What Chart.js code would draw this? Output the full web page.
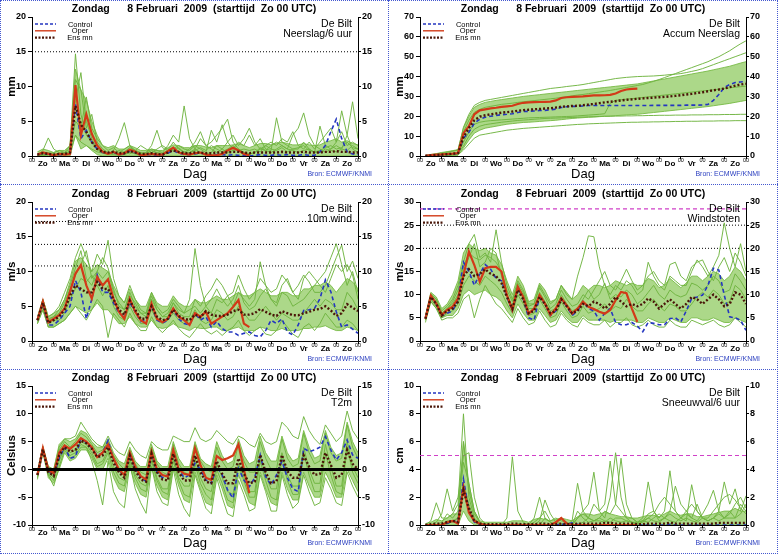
<!DOCTYPE html>
<html><head><meta charset="utf-8">
<script src="https://cdn.jsdelivr.net/npm/chart.js@4.4.0/dist/chart.umd.min.js"></script>
<style>
html,body{margin:0;padding:0;background:#fff}
body{width:778px;height:554px;overflow:hidden;position:relative}
.p{position:absolute}
.p canvas{display:block}
.hl{position:absolute;height:0;border-top:1px dotted #4458d0}
.vl{position:absolute;width:0;border-left:1px dotted #4458d0}
</style></head><body>
<div class="p" style="left:0;top:0"><canvas id="c1" width="388" height="185"></canvas></div>
<div class="p" style="left:388px;top:0"><canvas id="c2" width="390" height="185"></canvas></div>
<div class="p" style="left:0;top:185px"><canvas id="c3" width="388" height="185"></canvas></div>
<div class="p" style="left:388px;top:185px"><canvas id="c4" width="390" height="185"></canvas></div>
<div class="p" style="left:0;top:369px"><canvas id="c5" width="388" height="185"></canvas></div>
<div class="p" style="left:388px;top:369px"><canvas id="c6" width="390" height="185"></canvas></div>
<div class="hl" style="left:0;top:0;width:778px"></div>
<div class="hl" style="left:0;top:184px;width:778px"></div>
<div class="hl" style="left:0;top:369px;width:778px"></div>
<div class="hl" style="left:0;top:553px;width:778px"></div>
<div class="vl" style="left:0;top:0;height:554px"></div>
<div class="vl" style="left:388px;top:0;height:554px"></div>
<div class="vl" style="left:777px;top:0;height:554px"></div>
<script>
// ---------- time grid & labels ----------
const H = [6,12,18,24,30,36,42,48,54,60,66,72,78,84,90,96,102,108,114,120,126,132,138,144,150,156,162,168,174,180,186,192,198,204,210,216,222,228,234,240,246,252,258,264,270,276,282,288,294,300,306,312,318,324,330,336,342,348,354,360];
const DAYS = ['Zo','Ma','Di','Wo','Do','Vr','Za','Zo','Ma','Di','Wo','Do','Vr','Za','Zo'];
const TITLE = 'Zondag      8 Februari  2009  (starttijd  Zo 00 UTC)';

// ---------- Panel 1: Neerslag/6 uur (mm) ----------
const rainControl = [0.2,0.4,0.2,0.1, 0.2,0.2,0.3,7.5, 2.5,3.7,2.0,1.0, 0.5,0.4,0.5,0.2, 0.3,0.7,0.5,0.1, 0.2,0.2,0.1,0.2, 0.4,0.8,0.4,0.2, 0.2,0.3,0.4,0.2, 0.1,0.2,0.2,0.1, 0.2,0.1,0.1,0.0, 0.1,0.2,0.1,0.1, 0.2,0.1,0.2,0.1, 0.1,0.2,0.1,0.1, 0.6,1.5,3.5,5.3, 2.5,0.6,0.3,0.2];
const rainOper = [0.2,0.5,0.3,0.1, 0.3,0.2,0.3,10.2, 3.0,6.0,3.2,1.5, 0.6,0.3,0.6,0.2, 0.4,0.9,0.6,0.1, 0.2,0.3,0.2,0.2, 0.7,1.2,0.5,0.3, 0.2,0.4,0.5,0.2, 0.1,0.1,0.3,0.8, 1.2,0.8,0.3,0.1];
const rainMean = [0.2,0.4,0.3,0.2, 0.3,0.3,0.5,7.2, 4.5,3.5,2.0,1.0, 0.6,0.5,0.6,0.4, 0.4,0.7,0.5,0.3, 0.3,0.4,0.3,0.2, 0.5,0.8,0.6,0.4, 0.4,0.5,0.5,0.4, 0.4,0.5,0.5,0.5, 0.6,0.6,0.5,0.4, 0.5,0.5,0.5,0.5, 0.5,0.6,0.5,0.5, 0.5,0.6,0.5,0.5, 0.5,0.6,0.6,0.7, 0.6,0.6,0.5,0.5];
const rainLo = [0,0,0,0, 0,0,0,3.0, 1.0,1.5,0.8,0.2, 0,0,0,0, 0,0,0,0, 0,0,0,0, 0,0,0,0, 0,0,0,0, 0,0,0,0, 0,0,0,0, 0,0,0,0, 0,0,0,0, 0,0,0,0, 0,0,0,0, 0,0,0,0];
const rainHi = [0.6,1.0,0.8,0.5, 0.8,0.8,1.5,12.5, 9.5,8.0,5.0,3.0, 1.5,1.2,1.5,1.0, 1.0,1.5,1.2,0.8, 0.8,1.0,0.8,0.8, 1.2,1.6,1.5,1.2, 1.2,1.5,1.5,1.3, 1.2,1.5,1.5,1.5, 1.6,1.8,1.5,1.2, 1.5,1.8,1.8,1.6, 1.8,2.0,1.8,1.6, 1.6,1.8,1.6,1.5, 1.6,2.0,2.2,2.5, 2.0,2.2,1.8,1.6];
const rainM1 = [0,0.3,0.5,0.2, 0.3,0.5,1.5,14.7, 6.0,3.0,2.0,1.0, 0.5,0.3,0.2,0.1, 0.2,0.5,0.3,0.1, 0.5,1.0,0.8,0.5, 1.5,3.0,2.0,7.2, 2.5,1.0,0.5,0.3, 0.5,1.5,1.0,0.5, 0.8,1.0,0.5,0.3, 0.5,1.2,0.8,0.5, 1.0,1.5,1.0,0.8, 0.5,0.8,1.0,0.5, 0.5,1.0,0.8,0.6, 1.0,3.0,7.8,2.5];
const rainM2 = [0,0.8,2.6,1.0, 0.5,0.3,0.5,8.0, 12.0,5.0,2.5,1.0, 0.5,0.3,0.8,2.5, 4.8,1.5,0.5,0.3, 0.5,1.5,3.7,1.2, 0.8,1.0,0.5,0.3, 0.5,1.0,2.5,1.5, 2.0,3.0,4.0,5.3, 2.0,1.0,0.5,0.3, 0.5,1.0,0.8,1.5, 2.0,1.5,1.0,3.0, 4.0,6.2,3.0,1.5, 1.0,0.5,1.0,1.5, 1.0,0.8,1.5,1.0];
const rainM3 = [0,0.2,0.3,0.5, 0.8,0.5,1.0,11.0, 9.5,4.0,6.0,2.0, 1.0,0.5,0.3,0.8, 0.5,0.3,0.8,1.5, 1.0,0.5,0.3,0.2, 0.5,1.0,1.5,1.0, 0.8,1.5,1.0,0.5, 3.7,2.0,4.5,2.0, 1.0,2.0,1.5,3.0, 1.5,2.5,1.0,0.8, 5.5,2.0,1.5,1.0, 1.0,2.0,1.0,0.5, 4.3,1.5,1.0,2.0, 6.5,3.0,1.0,0.5];
const rainM4 = [0,0,0.2,0.3, 0.2,0.2,0.8,5.0, 4.0,8.5,4.0,2.5, 1.5,0.8,1.2,0.5, 1.0,1.5,0.8,0.5, 0.3,0.5,1.0,1.5, 1.0,0.8,1.2,0.5, 1.0,2.0,3.5,1.5, 1.0,0.5,1.0,2.0, 3.0,1.5,2.5,4.0, 2.0,1.0,1.5,2.0, 1.5,2.5,2.0,3.5, 1.5,1.0,2.0,1.0, 2.0,3.0,4.0,2.0, 3.5,1.5,2.0,1.5];
const rainM5 = [0,0.1,0.2,0.1, 0.2,0.4,0.6,3.0, 2.0,1.5,1.0,0.6, 0.4,0.2,0.5,0.3, 0.6,1.2,0.8,0.4, 0.3,0.8,0.5,0.4, 0.8,2.0,1.0,0.6, 0.5,0.8,1.2,0.8, 1.5,1.0,0.6,1.0, 1.5,0.8,1.0,0.8, 1.0,0.6,1.5,1.0, 0.8,1.2,0.6,1.0, 1.2,1.5,0.8,0.6, 0.8,1.2,1.5,1.0, 1.2,2.0,1.2,1.0];
const rainLevels = [15];

// ---------- Panel 2: Accum Neerslag (mm) ----------
const accControl = [0.1,0.3,0.5,0.6, 0.8,1.0,1.3,9.0, 12.0,16.5,18.5,19.5, 20.0,20.4,20.8,21.0, 21.3,21.9,22.4,22.5, 22.7,22.9,23.0,23.2, 23.6,24.4,24.8,25.0, 25.0,25.2,25.4,25.4, 25.4,25.4,25.4,25.4, 25.4,25.4,25.4,25.4, 25.4,25.4,25.5,25.5, 25.5,25.5,25.5,25.5, 25.6,25.6,25.6,25.7, 26.0,28.0,31.0,34.5, 36.0,37.0,37.3,37.5];
const accOper = [0.1,0.4,0.7,0.8, 1.0,1.2,1.5,11.5, 15.0,21.0,23.0,23.5, 24.0,24.3,24.7,25.0, 25.3,26.2,26.8,27.0, 27.1,27.2,27.3,27.4, 28.0,29.2,29.6,29.8, 29.9,30.0,30.3,30.5, 30.5,30.6,30.8,31.5, 32.7,33.5,33.8,33.9];
const accMean = [0.1,0.3,0.5,0.7, 0.9,1.1,1.5,9.5, 14.0,18.0,19.8,20.5, 21.0,21.4,21.8,22.1, 22.4,22.8,23.1,23.3, 23.5,23.7,23.9,24.1, 24.4,24.8,25.0,25.2, 25.3,25.6,25.9,26.2, 26.6,27.0,27.3,27.6, 28.0,28.3,28.5,28.8, 29.0,29.2,29.4,29.6, 29.8,30.0,30.3,30.6, 31.0,31.3,31.7,32.1, 32.6,33.1,33.5,34.0, 34.7,35.4,36.0,36.4];
const accLo = [0,0,0,0.1, 0.2,0.3,0.4,4.0, 8.0,11.5,13.0,14.0, 14.5,15.0,15.5,16.0, 16.3,16.6,16.9,17.0, 17.2,17.4,17.6,17.8, 18.0,18.3,18.6,18.9, 19.1,19.3,19.5,19.6, 19.8,20.0,20.1,20.3, 20.5,20.7,20.9,21.0, 21.3,21.6,21.9,22.2, 22.5,22.8,23.1,23.4, 23.7,24.0,24.3,24.6, 24.9,25.3,25.7,26.1, 26.5,27.0,27.5,28.0];
const accHi = [0.3,0.8,1.2,1.8, 2.2,2.7,3.2,14.0, 20.0,24.5,26.0,27.0, 27.5,28.0,28.4,28.8, 29.2,29.6,30.0,30.3, 30.6,30.9,31.2,31.5, 31.8,32.1,32.4,32.7, 33.0,33.3,33.6,33.9, 34.2,34.5,34.8,35.1, 35.4,35.7,36.0,36.3, 36.8,37.3,37.8,38.3, 38.8,39.3,39.8,40.3, 40.8,41.3,41.8,42.3, 42.8,43.4,44.0,44.6, 45.2,46.0,46.8,47.5];
const accM1 = [0,0,0.1,0.2, 0.3,0.4,0.6,3.0, 6.0,9.0,10.5,11.0, 11.5,12.0,12.5,13.0, 13.3,13.6,13.9,14.1, 14.3,14.5,14.7,14.9, 15.1,15.3,15.5,15.7, 15.9,16.0,16.2,16.3, 16.4,16.5,16.6,16.7, 16.8,16.9,17.0,17.0, 17.1,17.1,17.2,17.2, 17.3,17.3,17.4,17.4, 17.5,17.5,17.5,17.6, 17.6,17.6,17.7,17.7, 17.7,17.8,17.8,17.8];
const accM2 = [0.2,0.6,1.0,1.5, 2.0,2.5,3.0,12.0, 18.0,22.0,23.5,24.5, 25.0,25.5,26.0,26.3, 26.6,27.0,27.3,27.6, 27.9,28.2,28.5,28.8, 29.1,29.5,29.9,30.3, 30.7,31.0,31.4,31.8, 32.2,32.6,33.0,33.5, 34.0,34.5,35.0,35.5, 36.0,36.8,37.6,38.5, 39.5,40.5,41.5,42.5, 43.5,44.5,45.5,46.5, 47.5,48.8,50.0,51.5, 53.0,54.8,56.5,58.0];
const accM3 = [0.1,0.4,0.8,1.2, 1.8,2.4,3.0,14.5, 21.0,25.5,27.0,28.0, 28.5,29.0,29.5,30.0, 30.5,31.0,31.5,32.0, 32.5,33.0,33.5,34.0, 34.3,34.6,35.0,35.3, 35.6,36.0,36.5,37.0, 37.5,38.0,38.5,39.0, 39.3,39.6,39.8,40.0, 40.1,40.2,40.3,40.5, 40.7,41.0,41.2,41.5, 42.0,42.6,43.2,44.0, 45.0,46.0,47.0,48.0, 49.0,50.0,51.0,52.0];
const accM4 = [0,0.2,0.4,0.5, 0.6,0.8,1.0,7.0, 12.0,16.0,17.0,17.5, 17.8,18.0,18.2,18.4, 18.6,18.8,19.0,19.2, 19.3,19.4,19.5,19.6, 19.7,19.8,19.9,20.0, 20.2,20.4,20.6,20.8, 21.0,21.3,26.5,28.0, 28.3,28.6,28.9,29.2, 29.5,29.8,30.1,30.4, 30.7,31.0,31.3,31.6, 31.9,32.2,32.5,32.8, 33.0,33.3,33.6,34.0, 34.3,34.6,34.9,35.2];
const accM5 = [0,0.1,0.3,0.5, 0.7,0.9,1.2,5.0, 10.0,13.5,15.0,15.8, 16.2,16.6,17.0,17.3, 17.6,17.9,18.1,18.3, 18.5,18.7,18.9,19.0, 19.1,19.2,19.3,19.4, 19.5,19.6,19.7,19.8, 19.9,20.0,20.0,20.1, 20.1,20.2,20.2,20.3, 20.3,20.4,20.4,20.5, 20.5,20.5,20.6,20.6, 20.6,20.7,20.7,20.7, 20.8,20.8,20.8,20.9, 20.9,20.9,21.0,21.0];

// ---------- Panel 3: 10m wind (m/s) ----------
const windControl = [3.0,5.5,2.3,2.3, 3.0,4.0,5.0,8.7, 7.0,3.2,6.0,9.5, 7.0,7.0,5.5,4.0, 3.5,5.5,4.2,2.8, 3.0,5.0,3.0,2.6, 3.0,4.5,3.2,2.5, 2.3,4.0,3.0,3.5, 2.0,2.8,1.8,1.3, 1.3,0.8,1.1,1.3, 0.8,0.6,1.5,3.0, 2.5,3.2,1.3,0.9, 2.3,4.4,4.5,4.7, 6.1,8.8,7.1,4.2, 2.0,2.3,1.7,1.1];
const windOper = [3.0,5.7,2.7,3.2, 3.7,4.7,7.1,9.7, 10.9,8.0,6.1,9.2, 8.0,8.9,6.1,4.2, 3.2,6.1,4.2,3.0, 2.5,5.4,3.2,2.7, 3.2,4.7,3.5,3.0, 2.3,4.0,3.5,4.2, 2.5,3.0,3.5,4.0, 4.9,5.9,2.5,2.0];
const windMean = [3.0,5.5,2.6,3.0, 3.5,4.5,6.5,8.0, 7.5,7.0,7.0,8.5, 7.5,7.5,6.0,4.5, 3.8,5.8,4.5,3.2, 3.2,5.0,3.5,3.0, 3.2,4.5,3.6,3.2, 3.0,3.8,3.4,4.3, 3.8,3.6,3.6,3.8, 4.3,4.5,3.8,3.8, 4.0,4.6,4.2,3.8, 3.6,4.3,4.0,3.7, 3.7,4.0,4.2,4.5, 4.6,5.0,4.4,3.6, 4.0,5.3,4.8,4.3];
const windLo = [2.5,4.5,2.0,2.0, 2.5,3.0,4.0,5.0, 4.5,4.0,4.5,5.5, 4.5,4.5,3.5,2.5, 2.5,3.5,2.5,2.0, 2.0,3.0,2.0,1.8, 2.0,2.5,2.0,1.8, 1.5,2.0,1.8,1.8, 2.0,2.0,1.5,1.5, 1.8,2.0,1.5,1.5, 1.5,2.0,1.8,1.5, 1.5,1.8,1.5,1.5, 1.5,1.8,1.8,2.0, 2.0,2.2,1.8,1.5, 1.5,2.0,1.8,1.5];
const windHi = [3.5,6.0,3.5,4.0, 4.5,6.0,8.5,11.5, 12.0,11.0,10.0,11.0, 10.5,10.0,8.0,6.5, 5.5,7.5,6.0,5.0, 5.0,7.0,5.5,5.0, 5.0,6.5,5.5,5.0, 5.0,6.0,5.5,5.5, 6.0,6.5,6.0,6.0, 6.5,7.0,6.5,6.5, 7.0,7.5,7.0,6.5, 6.5,7.0,7.0,6.5, 6.5,7.5,7.5,8.0, 8.0,8.5,8.0,7.0, 8.0,9.0,8.5,7.5];
const windM1 = [3.0,6.0,3.5,4.0, 5.0,7.0,9.0,12.0, 14.0,12.0,10.0,12.5, 11.0,14.5,9.0,6.5, 5.5,8.0,6.0,4.5, 4.0,7.0,5.0,4.0, 4.5,6.0,5.0,4.0, 6.0,13.3,8.0,5.0, 4.0,6.0,5.5,6.5, 5.0,7.0,6.0,5.0, 6.0,11.4,8.0,6.0, 5.0,7.0,6.5,5.0, 5.5,6.0,7.0,8.0, 9.0,10.0,12.0,14.0, 11.0,8.0,10.0,7.0];
const windM2 = [2.5,4.5,2.0,2.0, 2.5,3.0,4.0,5.0, 4.0,3.0,4.5,6.0, 5.0,0.5,4.0,3.0, 2.0,4.0,2.5,1.5, 1.5,3.5,2.0,1.2, 2.0,3.0,1.8,1.0, 0.5,1.5,2.5,1.5, 1.0,1.5,0.8,1.5, 2.0,3.0,1.5,0.8, 1.5,2.0,1.0,0.8, 1.5,3.0,2.0,1.0, 0.5,2.0,2.5,1.5, 2.5,4.0,3.0,2.0, 2.0,3.0,2.5,1.5];
const windM3 = [3.2,5.0,3.0,3.5, 4.5,6.0,8.0,10.5, 13.0,9.0,8.0,10.0, 9.0,10.0,7.0,5.5, 4.5,7.0,5.0,4.0, 4.0,6.0,4.5,3.5, 4.0,5.5,4.5,4.0, 4.5,5.0,4.0,5.0, 6.0,7.5,6.0,5.0, 6.0,8.0,5.5,4.5, 5.0,6.5,7.5,6.0, 5.5,8.0,9.0,7.0, 6.0,9.0,10.0,9.0, 8.0,7.0,9.0,11.0, 10.0,11.0,9.5,6.0];
const windM4 = [2.8,5.2,2.5,3.0, 3.0,4.0,6.0,7.5, 9.0,8.5,9.5,8.0, 6.5,8.0,5.0,3.5, 3.0,5.0,3.5,2.5, 2.5,4.5,3.0,2.5, 3.0,4.0,3.0,2.5, 3.0,4.5,3.0,2.5, 3.0,4.5,4.0,3.0, 3.5,5.0,4.0,3.0, 3.0,4.0,5.0,4.0, 3.0,4.0,3.5,3.0, 3.0,4.0,5.0,6.0, 5.0,6.0,5.5,4.5, 4.5,7.0,6.0,4.5];
const windM5 = [3.0,5.8,3.2,3.5, 4.0,5.5,7.5,9.5, 11.0,13.0,9.0,10.0, 12.0,10.5,7.5,5.0, 4.5,6.5,5.5,4.0, 3.5,6.5,4.5,3.5, 3.5,5.5,4.0,3.5, 3.5,6.0,5.0,6.5, 7.5,9.0,8.0,6.5, 7.0,9.5,7.5,6.0, 7.0,9.0,8.0,7.0, 7.5,9.5,8.5,7.0, 8.0,9.5,8.5,7.0, 7.0,8.0,10.0,12.0, 13.8,10.0,11.5,9.0];
const windLevels = [10.8, 13.9, 17.2];

// ---------- Panel 4: Windstoten (m/s) ----------
const gustControl = [5.0,9.5,8.0,5.5, 6.0,6.5,9.0,17.0, 15.0,12.0,14.5,16.5, 15.5,13.5,13.0,9.5, 6.5,11.5,9.0,5.0, 4.5,9.5,8.0,5.5, 6.5,9.0,7.5,5.5, 6.5,8.5,7.0,6.5, 4.5,6.0,7.0,4.0, 3.5,3.5,4.0,3.2, 2.0,4.0,3.8,3.5, 3.5,4.8,5.0,4.1, 6.5,9.2,9.5,9.9, 12.0,15.7,15.3,9.9, 5.2,5.0,4.5,2.3];
const gustOper = [4.8,9.8,8.1,5.6, 6.7,7.4,9.2,14.2, 19.3,16.4,12.8,15.7, 16.0,16.0,15.0,9.9, 6.7,11.7,9.5,5.9, 7.0,9.9,8.1,5.6, 7.0,9.2,7.7,5.9, 7.0,8.5,7.4,6.9, 6.3,5.9,6.7,8.8, 10.6,10.3,7.0,4.1];
const gustMean = [4.8,9.5,8.0,5.5, 6.5,7.0,8.5,14.0, 15.5,14.0,14.5,15.5, 14.5,14.0,12.5,9.5, 7.0,11.0,9.0,6.0, 6.5,9.5,8.0,6.0, 6.5,9.0,7.5,6.0, 6.5,8.0,7.5,8.5, 8.0,7.0,8.0,9.5, 8.5,7.5,8.0,7.5, 8.0,9.2,8.5,7.0, 8.0,9.0,8.0,7.0, 8.0,9.5,9.0,8.0, 9.0,10.0,9.0,7.5, 8.0,10.5,10.0,8.0];
const gustLo = [4.0,8.5,7.0,5.0, 5.5,5.5,7.0,10.0, 11.0,10.0,10.5,11.0, 10.0,9.5,8.5,6.5, 5.0,8.0,6.0,4.5, 4.5,7.0,5.5,4.0, 4.5,6.5,5.0,4.0, 4.0,5.5,4.5,4.5, 4.5,4.5,4.0,4.5, 4.5,4.5,4.5,4.0, 4.0,5.0,4.5,4.0, 4.0,5.0,4.5,4.0, 4.0,5.0,5.0,4.5, 4.5,5.0,4.5,4.0, 4.0,5.0,4.5,4.0];
const gustHi = [5.5,10.5,9.5,7.0, 8.0,10.0,13.0,19.0, 21.0,20.0,19.5,20.0, 19.0,18.5,16.5,13.0, 10.0,14.0,12.0,8.5, 9.0,12.5,11.0,8.5, 9.0,12.0,10.5,9.0, 10.0,12.0,11.0,12.0, 12.0,11.5,12.0,13.0, 12.5,12.0,12.5,12.0, 12.0,13.5,13.0,11.5, 12.0,13.5,12.5,11.5, 12.5,14.0,14.0,13.0, 14.0,15.0,14.5,13.0, 14.0,16.0,15.0,13.0];
const gustM1 = [5.0,10.0,9.0,6.5, 7.5,9.0,12.0,17.0, 21.0,23.0,18.0,19.0, 17.0,24.0,17.0,12.0, 9.0,13.0,11.0,8.0, 8.0,12.0,10.0,8.0, 9.0,12.0,10.0,9.0, 14.0,18.0,22.7,22.5, 16.0,12.0,10.0,12.0, 11.0,13.0,12.0,10.0, 11.0,17.0,14.0,12.0, 11.0,14.0,13.0,12.0, 12.0,15.0,17.5,16.0, 14.0,16.0,18.5,25.5, 20.0,16.0,21.0,15.0];
const gustM2 = [4.5,8.5,7.0,4.5, 5.0,5.0,6.0,9.0, 10.0,5.0,9.0,12.0, 10.0,8.0,7.0,5.5, 4.0,7.0,5.0,3.5, 4.0,6.5,4.5,3.0, 3.5,6.0,4.5,3.5, 3.0,5.0,4.0,3.5, 3.5,4.5,3.0,4.0, 4.0,5.0,3.5,3.0, 3.5,4.5,3.5,3.0, 3.0,4.5,3.5,3.0, 3.0,4.5,4.0,3.5, 4.0,4.5,3.5,3.0, 3.5,5.0,4.0,3.0];
const gustM3 = [5.2,10.2,9.0,6.0, 7.0,8.5,11.0,16.0, 19.0,18.0,17.5,18.5, 18.0,17.0,15.0,11.0, 8.5,12.5,10.5,7.5, 8.0,11.5,9.5,7.0, 8.0,11.0,9.0,7.5, 8.0,10.0,9.0,11.0, 13.0,15.0,12.0,11.0, 13.0,15.5,13.0,11.0, 12.0,14.0,15.0,13.0, 12.0,16.5,17.0,14.0, 13.0,16.0,17.0,17.5, 15.0,13.0,16.0,18.0, 15.0,19.0,17.0,14.0];
const gustM4 = [4.8,9.0,7.5,5.0, 6.0,6.5,8.0,12.0, 14.0,13.0,12.0,14.0, 13.0,12.0,10.5,8.0, 6.0,10.0,8.0,5.5, 6.0,9.0,7.0,5.0, 5.5,8.5,6.5,5.0, 5.5,7.5,6.0,6.5, 7.0,8.0,6.5,7.5, 7.0,9.0,7.5,6.5, 6.5,8.0,9.0,7.5, 6.5,8.0,7.5,6.5, 6.5,8.0,9.5,10.5, 9.5,11.0,10.0,8.0, 8.5,12.0,11.0,9.0];
const gustM5 = [4.6,9.2,8.5,6.0, 7.0,8.0,10.0,15.0, 18.0,21.0,16.0,17.0, 20.0,19.0,14.0,10.0, 7.5,12.0,10.0,7.0, 7.0,10.5,8.5,6.5, 7.0,10.0,8.0,6.5, 7.0,9.0,11.0,9.0, 10.0,12.5,9.0,10.0, 9.5,11.0,10.0,8.0, 9.0,10.5,12.0,10.0, 9.0,11.0,10.0,9.5, 10.0,12.5,12.0,11.0, 12.0,14.0,13.0,10.5, 11.0,14.5,13.0,11.0];
const gustLevels = [20, 25];
const gustAlarm = [28.5];

// ---------- Panel 5: T2m (Celsius) ----------
const tempControl = [-1.0,3.6,-0.3,-1.0, 2.0,4.0,2.0,2.3, 5.5,4.8,3.8,2.5, 3.0,5.2,1.8,-0.2, -1.0,2.5,0.2,-1.4, -2.2,2.8,-0.5,-1.5, -1.0,3.2,0.0,-1.5, -1.0,1.1,0.0,-1.9, -2.5,0.5,-1.0,-3.7, -5.2,0.2,-1.9,-3.1, -1.5,2.6,-1.3,-2.8, -1.0,1.5,-1.5,-3.5, -4.0,3.8,3.2,3.5, 4.0,5.9,3.5,1.7, 3.0,5.3,2.6,2.0];
const tempOper = [-1.0,3.8,-0.1,-0.7, 3.0,4.3,3.7,4.5, 5.6,5.0,4.0,2.2, 3.0,4.5,2.0,0.0, -1.0,3.0,0.5,-1.2, -1.8,3.2,0.0,-1.0, -1.3,3.5,0.0,-0.8, -1.0,3.8,0.8,-1.5, -1.9,2.4,1.7,2.0, 2.5,4.5,0.0,-4.3];
const tempMean = [-1.0,3.6,-0.5,-1.2, 2.5,4.0,3.2,3.5, 5.2,4.7,3.7,2.2, 2.5,4.0,1.2,-0.5, -1.5,2.5,-0.2,-1.8, -2.2,2.8,-0.5,-1.8, -2.0,2.8,-0.5,-2.0, -2.0,2.5,-0.5,-2.2, -2.5,1.5,-0.8,-2.5, -2.5,2.0,-0.8,-2.5, -2.2,2.6,-0.5,-2.5, -2.2,2.6,-0.3,-1.5, -1.5,2.5,0.5,-1.0, -0.8,3.0,0.8,-1.5, -1.0,3.5,1.0,0.0];
const tempLo = [-1.8,3.0,-1.5,-2.5, 0.0,3.0,1.5,2.0, 3.5,3.5,2.0,0.0, 0.0,2.0,-1.5,-3.5, -4.0,0.5,-2.5,-4.5, -5.0,0.5,-3.0,-5.0, -5.5,0.5,-3.0,-5.5, -6.0,-0.5,-3.5,-6.0, -6.5,-1.0,-3.5,-6.5, -7.0,-1.0,-3.5,-6.0, -6.5,-0.5,-3.5,-6.0, -6.5,-0.5,-3.5,-5.5, -5.5,-0.5,-3.0,-5.0, -5.0,-0.5,-2.5,-5.0, -5.0,0.0,-2.0,-4.0];
const tempHi = [-0.3,4.2,0.5,0.0, 4.5,5.5,5.0,5.5, 7.0,6.5,5.0,4.0, 4.0,5.5,3.0,1.5, 1.0,4.0,1.5,0.5, 0.5,4.5,1.5,0.5, 0.5,5.0,2.0,0.5, 0.5,5.0,2.0,1.0, 0.5,5.0,2.5,1.0, 1.5,5.5,2.5,1.0, 1.5,6.0,3.0,1.5, 1.5,6.0,3.0,1.5, 2.0,7.0,4.0,2.0, 2.5,7.0,4.0,2.5, 3.0,8.5,5.0,3.0];
const tempM1 = [-0.8,4.0,0.5,0.0, 4.0,5.5,5.5,6.0, 8.5,7.0,5.5,4.5, 4.0,6.0,4.0,3.0, 2.5,5.0,3.5,2.5, 2.0,5.0,4.0,3.5, 3.5,6.0,5.5,5.0, 5.0,7.5,5.5,5.0, 5.5,7.0,6.0,5.0, 4.5,6.0,5.5,4.5, 4.0,6.5,5.0,4.5, 5.0,8.5,7.5,6.0, 5.5,9.5,7.0,5.5, 4.5,8.0,6.5,5.0, 6.0,10.5,7.0,5.5];
const tempM2 = [-1.5,3.3,-1.0,-3.0, 0.5,3.5,2.0,2.5, 4.0,4.0,1.5,-2.0, -6.4,1.5,-4.0,-6.0, -6.9,1.0,-3.5,-6.0, -7.9,0.5,-4.0,-6.0, -6.5,0.0,-4.5,-7.0, -8.5,-1.0,-4.0,-7.0, -8.0,-1.5,-5.0,-8.0, -8.5,-2.0,-4.5,-7.5, -7.0,-1.0,-4.0,-7.5, -7.5,-1.0,-4.5,-7.0, -6.0,-1.0,-4.0,-6.5, -6.0,-1.5,-3.5,-6.0, -6.5,-0.5,-3.0,-5.0];
const tempM3 = [-1.2,3.6,-0.8,-2.0, 1.5,3.8,2.5,3.0, 4.5,4.0,2.5,0.5, 1.0,3.0,-0.5,-2.5, -3.0,1.5,-1.5,-3.5, -4.0,1.5,-2.0,-4.0, -4.5,1.5,-2.0,-4.5, -5.0,1.0,-2.5,-4.5, -5.5,0.0,-2.5,-5.5, -6.0,0.5,-2.0,-5.0, -5.0,1.5,-2.0,-5.0, -5.5,2.0,-2.0,-4.5, -4.5,3.0,-1.0,-4.0, -4.0,3.0,-1.0,-4.0, -4.5,4.0,-0.5,-2.5];
const tempM4 = [-0.8,3.9,0.2,-0.5, 3.5,5.0,4.0,5.0, 6.5,5.8,4.5,3.0, 3.5,5.0,2.5,1.0, 0.0,3.5,1.0,-0.5, -1.0,4.0,1.0,-0.5, -1.0,4.5,1.0,-0.5, -1.0,4.5,1.5,0.0, -0.5,4.0,1.5,0.0, 0.5,4.5,1.5,-0.5, -0.5,5.0,2.0,0.0, 0.0,5.5,2.0,0.5, 1.0,6.5,3.0,1.0, 1.5,6.5,3.0,1.5, 2.0,8.0,4.0,2.0];
const tempM5 = [-1.0,3.5,-0.5,-1.5, 2.0,4.5,3.0,3.5, 5.0,4.5,3.0,1.0, 1.5,3.5,0.5,-1.5, -2.0,2.0,-1.0,-2.5, -3.0,2.0,-1.5,-3.5, -3.5,2.0,-1.5,-3.0, -3.0,2.0,-1.5,-3.5, -4.0,1.0,-1.5,-4.0, -4.5,1.0,-1.5,-4.0, -4.0,2.5,-1.0,-3.5, -3.5,3.0,-1.0,-3.0, -3.0,4.0,0.0,-2.5, -2.5,4.5,0.5,-3.0, -3.0,5.0,0.5,-1.5];
const tempZero = [0];

// ---------- Panel 6: Sneeuwval/6 uur (cm) ----------
const snowControl = [0,0,0,0, 0.1,0.3,0.2,3.3, 1.0,0.2,0.05,0, 0,0,0,0, 0,0,0,0, 0,0,0,0, 0,0.05,0.05,0.15, 0.05,0,0,0, 0,0,0,0, 0,0,0,0, 0,0,0,0, 0,0.05,0,0, 0,0,0,0, 0,0,0,0, 0,0,0,0];
const snowOper = [0,0,0,0, 0.2,0.3,0.1,2.7, 0.9,0.3,0.1,0, 0,0,0,0, 0,0,0,0, 0,0,0,0, 0.2,0.5,0.1,0, 0,0,0,0, 0,0,0,0, 0,0,0,0];
const snowMean = [0,0.05,0.1,0.1, 0.2,0.3,0.2,2.5, 1.2,0.3,0.1,0.05, 0.05,0.05,0.05,0.05, 0.1,0.1,0.05,0.05, 0.05,0.1,0.1,0.05, 0.05,0.1,0.05,0.05, 0.1,0.1,0.1,0.1, 0.1,0.15,0.15,0.1, 0.1,0.1,0.1,0.05, 0.05,0.1,0.1,0.1, 0.1,0.15,0.1,0.1, 0.1,0.1,0.1,0.1, 0.1,0.1,0.15,0.15, 0.15,0.15,0.15,0.15];
const snowLo = [0,0,0,0, 0,0,0,1.0, 0.3,0,0,0, 0,0,0,0, 0,0,0,0, 0,0,0,0, 0,0,0,0, 0,0,0,0, 0,0,0,0, 0,0,0,0, 0,0,0,0, 0,0,0,0, 0,0,0,0, 0,0,0,0, 0,0,0,0];
const snowHi = [0.1,0.2,0.4,0.3, 0.5,0.8,0.8,6.0, 3.0,1.0,0.3,0.2, 0.2,0.2,0.2,0.2, 0.3,0.3,0.3,0.2, 0.4,0.5,0.4,0.3, 0.4,0.5,0.4,0.3, 0.6,0.8,0.8,0.7, 0.8,0.9,0.8,0.7, 0.6,0.6,0.5,0.5, 0.6,0.7,0.7,0.6, 0.8,1.0,0.8,0.7, 0.8,0.8,0.6,0.6, 0.7,0.8,0.9,1.0, 1.0,1.2,1.0,1.0];
const snowM1 = [0,0.3,1.6,0.5, 0.5,0.8,1.5,8.0, 2.0,0.5,0.1,0, 0,0,0,0.5, 4.9,1.0,0.2,0, 0,0.3,1.8,0.8, 0.2,0.1,0,0.3, 3.0,1.0,0.5,1.5, 1.0,0.5,2.0,5.2, 2.0,0.5,0.2,0, 0.3,0.8,1.0,0.5, 1.0,3.9,1.0,0.5, 0.3,2.9,1.0,0.5, 0.3,0.5,1.0,3.1, 1.5,2.6,1.0,2.1];
const snowM2 = [0,0,0.2,0.8, 2.6,1.0,2.0,5.0, 5.2,2.0,0.5,0.1, 0,0,0,0, 0,0.1,0,0, 0.5,2.0,0.5,0.2, 0,0,0.1,0, 0.5,1.0,1.5,3.8, 1.0,1.5,4.6,1.5, 4.8,1.5,0.5,0.2, 0.5,3.1,1.0,0.3, 0.5,1.0,2.8,1.5, 1.0,0.5,0.3,0.8, 1.5,2.5,1.0,0.5, 1.0,0.5,1.5,1.0];
const snowM3 = [0,0,0,0.2, 0.8,0.5,1.0,4.5, 3.0,1.0,0.2,0, 0,0,0,0, 0,0,0,0, 0.2,0.5,1.0,0.3, 0.5,0.3,0.2,0, 0.5,0.8,0.5,0.3, 0.5,1.0,0.8,1.5, 1.0,0.5,0.5,0.2, 0.3,0.5,0.8,1.5, 2.0,1.5,1.0,0.5, 1.0,1.5,1.0,0.5, 0.5,1.0,1.5,2.0, 2.2,1.8,1.2,0.8];
const snowM4 = [0,0,0,0, 0.3,0.2,0.5,3.0, 1.5,0.3,0,0, 0,0,0,0, 0,0,0,0, 0,0,0,0, 0,0,0,0, 0,0.2,0.5,0.3, 0.3,0.2,0.5,0.3, 0.2,0.3,0.2,0.2, 0.3,0.2,0.5,0.8, 0.5,0.8,0.5,0.3, 0.5,0.3,0.2,0.5, 0.3,0.5,0.8,0.5, 0.8,1.5,2.0,1.2];
const snowM5 = [0,0,0,0, 0.1,0.3,0.5,6.0, 2.5,0.8,0.2,0, 0,0,0,0, 0,0,0,0, 0,0,0.5,0.2, 0,0,0,0, 1.0,0.5,0.2,0.3, 0.5,0.3,0.2,0.5, 0.5,0.3,0.2,0.1, 0.2,0.5,0.3,0.2, 0.5,0.3,0.2,0.5, 0.8,0.5,1.5,0.5, 0.3,0.5,0.3,0.5, 0.5,0.5,0.8,1.5];
const snowAlarm = [5];

// ---------- styling ----------
const FAM = '"Liberation Sans", Arial, Helvetica, sans-serif';
const C_CONTROL = '#2436c0';
const C_OPER = '#d23a18';
const C_MEAN = '#4a1608';
const C_MEMBER = 'rgba(112,180,64,0.95)';
const C_EDGE = 'rgba(120,186,70,0.9)';
const C_BAND = 'rgba(140,201,92,0.72)';
const C_ALARM = '#d040c8';

function pts(arr){ return arr.map((v,k)=>({x:H[k], y:v})); }
function flat(v){ return [{x:0,y:v},{x:360,y:v}]; }

const insetPlugin = {
  id: 'inset',
  afterDraw(chart, args, opts) {
    const ctx = chart.ctx, a = chart.chartArea;
    ctx.save();
    const items = [
      {t:'Control', c:C_CONTROL, dash:[3,2], w:1.4},
      {t:'Oper', c:C_OPER, dash:[], w:1.4},
      {t:'Ens mn', c:C_MEAN, dash:[2,1.5], w:2.4}
    ];
    items.forEach((it,k)=>{
      const y = a.top + 7 + k*6.8;
      ctx.beginPath(); ctx.setLineDash(it.dash); ctx.strokeStyle = it.c; ctx.lineWidth = it.w;
      ctx.moveTo(a.left+3, y); ctx.lineTo(a.left+24, y); ctx.stroke();
      ctx.setLineDash([]);
      ctx.fillStyle = '#000'; ctx.font = '7.5px ' + FAM; ctx.textAlign = 'center'; ctx.textBaseline = 'middle';
      ctx.fillText(it.t, a.left+48, y+0.5);
    });
    ctx.fillStyle = '#000'; ctx.font = '10.5px ' + FAM; ctx.textAlign = 'right'; ctx.textBaseline = 'middle';
    ctx.fillText('De Bilt', a.right-6, a.top+7);
    ctx.fillText(opts.label, a.right-6, a.top+17.5);
    ctx.fillStyle = '#2b3fc0'; ctx.font = '7px ' + FAM; ctx.textAlign = 'right';
    ctx.fillText('Bron: ECMWF/KNMI', 372, 174);
    ctx.restore();
  }
};
Chart.register(insetPlugin);

function build(id, W, c) {
  const ds = [];
  ds.push({data:pts(c.lo), borderColor:C_EDGE, borderWidth:1, pointRadius:0, fill:false, order:50});
  ds.push({data:pts(c.hi), borderColor:C_EDGE, borderWidth:1, backgroundColor:C_BAND, pointRadius:0, fill:'-1', order:50});
  c.members.forEach(m => ds.push({data:pts(m), borderColor:C_MEMBER, borderWidth:1, pointRadius:0, fill:false, order:40}));
  (c.dotted||[]).forEach(v => ds.push({data:flat(v), borderColor:'#000', borderWidth:1, borderDash:[1,2], pointRadius:0, fill:false, order:45}));
  (c.alarm||[]).forEach(v => ds.push({data:flat(v), borderColor:C_ALARM, borderWidth:1.2, borderDash:[4,3], pointRadius:0, fill:false, order:45}));
  (c.zero||[]).forEach(v => ds.push({data:flat(v), borderColor:'#000', borderWidth:3, pointRadius:0, fill:false, order:0}));
  ds.push({data:pts(c.control), borderColor:C_CONTROL, borderWidth:1.6, borderDash:[4,3], pointRadius:0, fill:false, order:3});
  ds.push({data:pts(c.oper), borderColor:C_OPER, borderWidth:2.2, pointRadius:0, fill:false, order:2});
  ds.push({data:pts(c.mean), borderColor:C_MEAN, borderWidth:2.4, borderDash:[2,2], pointRadius:0, fill:false, order:1});

  const tickFont = {family:FAM, size:9, weight:'bold'};
  new Chart(document.getElementById(id), {
    type:'line',
    data:{datasets:ds},
    options:{
      responsive:false, animation:false, devicePixelRatio:1,
      elements:{line:{tension:0}},
      layout:{padding:0},
      plugins:{
        legend:{display:false}, tooltip:{enabled:false},
        title:{display:true, text:TITLE, color:'#000', font:{family:FAM, size:10.5, weight:'bold', lineHeight:1.2}, padding:{top:2.5, bottom:1.9}},
        inset:{label:c.label}
      },
      scales:{
        x:{type:'linear', min:0, max:360, offset:false,
          ticks:{stepSize:12, autoSkip:false, maxRotation:0, minRotation:0, padding:0, color:'#000',
            callback:(v)=> (v % 24 === 0) ? '00' : DAYS[Math.floor(v/24)],
            font:(ctx)=> (ctx.tick && ctx.tick.value % 24 === 0) ? {family:FAM, size:5.5, lineHeight:0.4} : {family:FAM, size:8, weight:'bold', lineHeight:1.3}},
          grid:{display:true, drawOnChartArea:false, drawTicks:true, tickLength:3,
            color:(ctx)=> (ctx.tick && ctx.tick.value % 24 === 0) ? '#000' : 'rgba(0,0,0,0)'},
          border:{display:true, color:'#000', width:1},
          title:{display:true, text:'Dag', color:'#000', font:{family:FAM, size:13}, padding:{top:0, bottom:3}},
          afterFit:(s)=>{ s.height = 29; }
        },
        y:{type:'linear', position:'left', min:c.min, max:c.max,
          ticks:{stepSize:c.step, font:tickFont, color:'#000', padding:2},
          grid:{display:true, drawOnChartArea:false, tickLength:4, color:'#000'},
          border:{display:true, color:'#000', width:1},
          title:{display:true, text:c.ytitle, color:'#000', font:{family:FAM, size:11.5, weight:'bold'}, padding:{top:5, bottom:0}},
          afterFit:(s)=>{ s.width = 32; }
        },
        y2:{type:'linear', position:'right', display:true, min:c.min, max:c.max,
          ticks:{stepSize:c.step, font:tickFont, color:'#000', padding:1},
          grid:{display:true, drawOnChartArea:false, tickLength:3, color:'#000'},
          border:{display:true, color:'#000', width:1},
          afterFit:(s)=>{ s.width = W - 358; }
        }
      }
    }
  });
}

build('c1', 388, {min:0, max:20, step:5, ytitle:'mm', label:'Neerslag/6 uur',
  control:rainControl, oper:rainOper, mean:rainMean, lo:rainLo, hi:rainHi,
  members:[rainM1,rainM2,rainM3,rainM4,rainM5], dotted:rainLevels});
build('c2', 390, {min:0, max:70, step:10, ytitle:'mm', label:'Accum Neerslag',
  control:accControl, oper:accOper, mean:accMean, lo:accLo, hi:accHi,
  members:[accM1,accM2,accM3,accM4,accM5]});
build('c3', 388, {min:0, max:20, step:5, ytitle:'m/s', label:'10m wind',
  control:windControl, oper:windOper, mean:windMean, lo:windLo, hi:windHi,
  members:[windM1,windM2,windM3,windM4,windM5], dotted:windLevels});
build('c4', 390, {min:0, max:30, step:5, ytitle:'m/s', label:'Windstoten',
  control:gustControl, oper:gustOper, mean:gustMean, lo:gustLo, hi:gustHi,
  members:[gustM1,gustM2,gustM3,gustM4,gustM5], dotted:gustLevels, alarm:gustAlarm});
build('c5', 388, {min:-10, max:15, step:5, ytitle:'Celsius', label:'T2m',
  control:tempControl, oper:tempOper, mean:tempMean, lo:tempLo, hi:tempHi,
  members:[tempM1,tempM2,tempM3,tempM4,tempM5], zero:tempZero});
build('c6', 390, {min:0, max:10, step:2, ytitle:'cm', label:'Sneeuwval/6 uur',
  control:snowControl, oper:snowOper, mean:snowMean, lo:snowLo, hi:snowHi,
  members:[snowM1,snowM2,snowM3,snowM4,snowM5], alarm:snowAlarm});
</script>
</body></html>
